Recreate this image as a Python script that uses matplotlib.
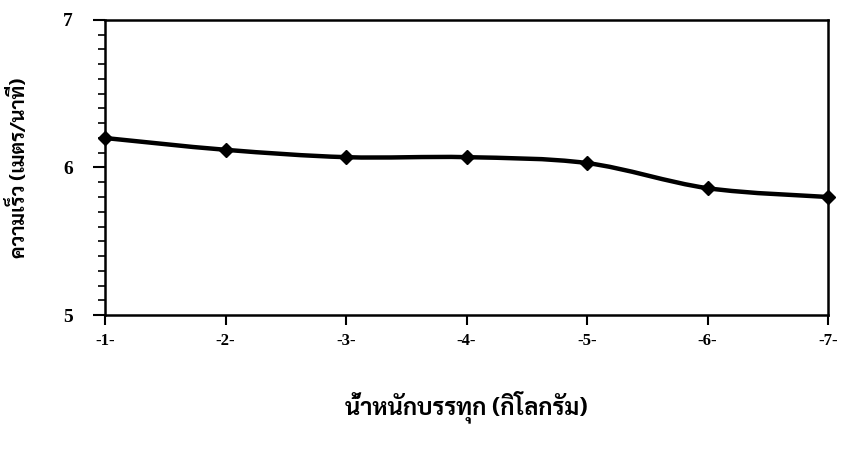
import matplotlib
matplotlib.use('Agg')
import matplotlib.pyplot as plt
from matplotlib.path import Path
from matplotlib.patches import PathPatch
from matplotlib.ticker import MultipleLocator

# data
categories = ['-1-', '-2-', '-3-', '-4-', '-5-', '-6-', '-7-']
speed = [6.20, 6.12, 6.07, 6.07, 6.03, 5.86, 5.80]
x_title = 'น้ำหนักบรรทุก (กิโลกรัม)'
y_title = 'ความเร็ว (เมตร/นาที)'

thai = ['Sarabun', 'DejaVu Sans']
num = ['Liberation Serif', 'DejaVu Serif']

fig = plt.figure(figsize=(8.42, 4.49), dpi=100)
ax = fig.add_axes([0.1247, 0.2984, 0.8587, 0.6571])

xs = list(range(1, len(speed) + 1))

# smoothed line like a spreadsheet chart (bezier through the points)
def smooth_path(x, y):
    pts = list(zip(x, y))
    n = len(pts)
    verts = [pts[0]]
    codes = [Path.MOVETO]
    for i in range(n - 1):
        p0 = pts[max(i - 1, 0)]
        p1 = pts[i]
        p2 = pts[i + 1]
        p3 = pts[min(i + 2, n - 1)]
        c1 = (p1[0] + (p2[0] - p0[0]) / 6, p1[1] + (p2[1] - p0[1]) / 6)
        c2 = (p2[0] - (p3[0] - p1[0]) / 6, p2[1] - (p3[1] - p1[1]) / 6)
        verts += [c1, c2, p2]
        codes += [Path.CURVE4] * 3
    return Path(verts, codes)

ax.add_patch(PathPatch(smooth_path(xs, speed), fill=False, lw=3.2,
                       edgecolor='black', capstyle='round', joinstyle='round',
                       clip_on=False, zorder=3))
ax.plot(xs, speed, ls='none', marker='D', ms=7, color='black',
        clip_on=False, zorder=4)

ax.set_xlim(1, 7)
ax.set_ylim(5, 7)
ax.set_xticks(xs)
ax.set_xticklabels(categories, family=num, fontweight='bold', fontsize=12)
ax.yaxis.set_major_locator(MultipleLocator(1))
ax.yaxis.set_minor_locator(MultipleLocator(0.1))
ax.set_yticks([5, 6, 7])
ax.set_yticklabels(['5', '6', '7'], family=num, fontweight='bold', fontsize=14)

ax.tick_params(axis='x', direction='out', length=7, width=1.5, pad=6)
ax.tick_params(axis='y', which='major', direction='out', length=9, width=1.5, pad=14)
ax.tick_params(axis='y', which='minor', direction='out', length=5, width=1.2)
for s in ax.spines.values():
    s.set_linewidth(1.8)

ax.set_xlabel(x_title, family=thai, fontweight='bold', fontsize=17, labelpad=30)
ax.set_ylabel(y_title, family=thai, fontweight='bold', fontsize=14.5, labelpad=25)

fig.savefig('out.png', dpi=100)
